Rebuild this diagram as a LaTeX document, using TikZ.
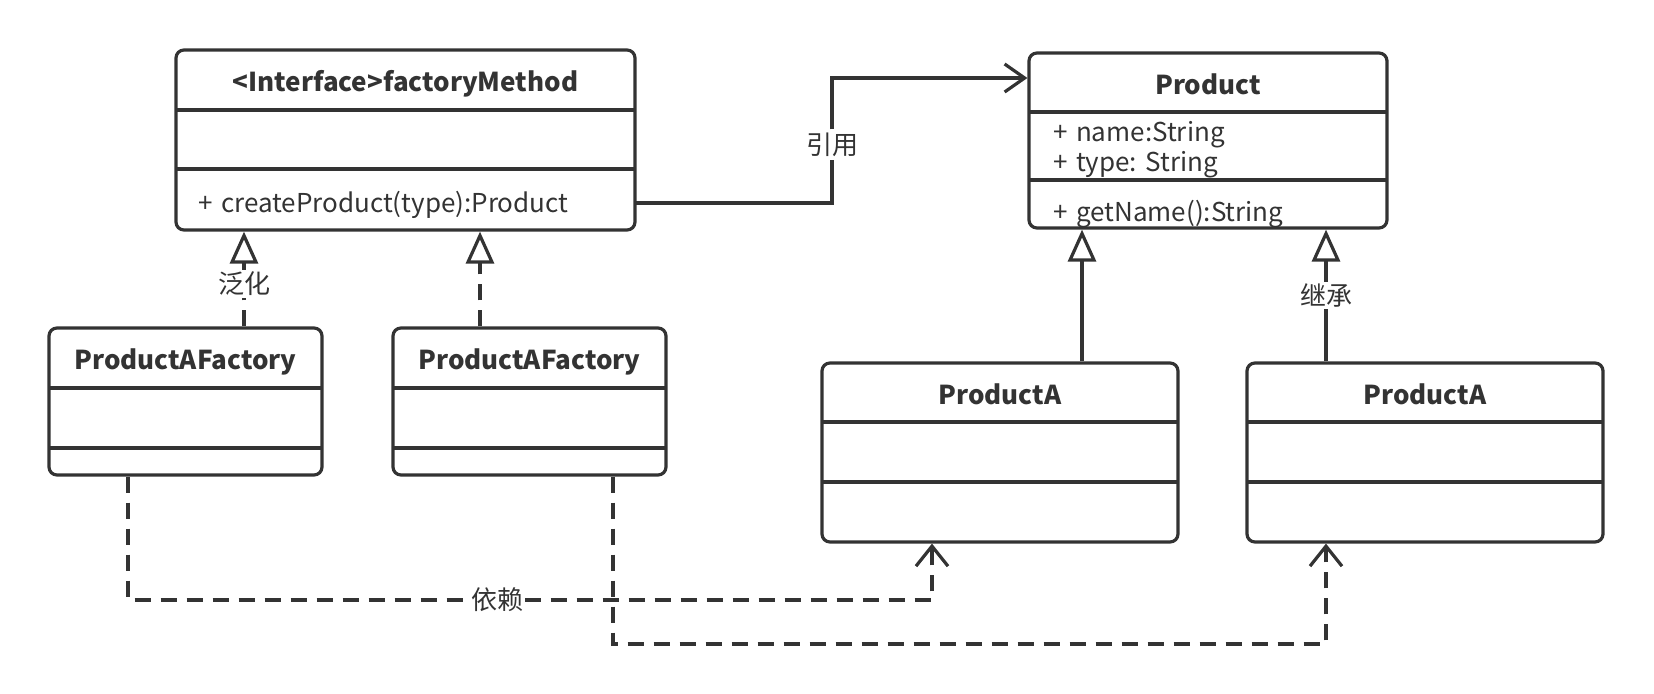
\documentclass[tikz,border=0pt]{standalone}
\usepackage{fontspec}
\setmainfont{Noto Sans CJK SC}
\usetikzlibrary{arrows.meta, positioning, fit}
\definecolor{umlgray}{HTML}{333333}
\frenchspacing

\begin{document}
\begin{tikzpicture}[
    x=0.5pt, y=-0.5pt,
    color=umlgray, line width=1.6pt,
    font=\fontsize{13}{15}\selectfont,
    part/.style={minimum width=#1, inner sep=0pt, outer sep=0pt},
    ttl/.style={part=#1, font=\fontsize{13}{15}\selectfont\bfseries,
                text height=12pt, text depth=0pt},
    box/.style={draw, rounded corners=4pt, inner sep=0pt},
    lbl/.style={fill=white, inner sep=1pt},
    dline/.style={dash pattern=on 8pt off 5pt},
    realize/.style={dline, -{Triangle[open, length=16pt, width=14pt]}},
    inherit/.style={-{Triangle[open, length=16pt, width=14pt]}},
    assoc/.style={-{Straight Barb[length=10pt, width=14pt]}},
    depend/.style={dline, -{Straight Barb[length=10pt, width=16pt]}}
]
\useasboundingbox (0,0) rectangle (1654,694);

% ---- interface ----
\node[ttl=229.5pt, minimum height=30pt, anchor=north] (fm_t) at (405.5,50) {<Interface>factoryMethod};
\node[part=229.5pt, minimum height=29.5pt, below=0pt of fm_t] (fm_a) {};
\node[part=229.5pt, minimum height=30.5pt, below=0pt of fm_a, text width=207.5pt,
      inner xsep=11pt, align=left, text height=13.5pt, text depth=0pt] (fm_m) {+ createProduct(type):Product};
\node[box, fit=(fm_t)(fm_m)] (fm) {};
\draw (fm_t.south west) -- (fm_t.south east);
\draw (fm_a.south west) -- (fm_a.south east);

% ---- Product ----
\node[ttl=179pt, minimum height=29.5pt, anchor=north] (pr_t) at (1208,53) {Product};
\node[part=179pt, minimum height=34pt, below=0pt of pr_t, text width=155pt,
      inner xsep=12pt, align=left] (pr_a) {\rule{0pt}{13.5pt}+ name:String\\+ type: String};
\node[part=179pt, minimum height=24pt, below=0pt of pr_a, text width=155pt,
      inner xsep=12pt, align=left] (pr_m) {\raisebox{-9pt}[0pt][0pt]{+ getName():String}};
\node[box, fit=(pr_t)(pr_m)] (pr) {};
\draw (pr_t.south west) -- (pr_t.south east);
\draw (pr_a.south west) -- (pr_a.south east);

% ---- factories ----
\node[ttl=136.5pt, minimum height=30pt, anchor=north] (fa1_t) at (185.5,328) {ProductAFactory};
\node[part=136.5pt, minimum height=30pt, below=0pt of fa1_t] (fa1_a) {};
\node[part=136.5pt, minimum height=13.5pt, below=0pt of fa1_a] (fa1_m) {};
\node[box, fit=(fa1_t)(fa1_m)] (fa1) {};
\draw (fa1_t.south west) -- (fa1_t.south east);
\draw (fa1_a.south west) -- (fa1_a.south east);

\node[ttl=136.5pt, minimum height=30pt, anchor=north] (fa2_t) at (529.5,328) {ProductAFactory};
\node[part=136.5pt, minimum height=30pt, below=0pt of fa2_t] (fa2_a) {};
\node[part=136.5pt, minimum height=13.5pt, below=0pt of fa2_a] (fa2_m) {};
\node[box, fit=(fa2_t)(fa2_m)] (fa2) {};
\draw (fa2_t.south west) -- (fa2_t.south east);
\draw (fa2_a.south west) -- (fa2_a.south east);

% ---- products ----
\node[ttl=178pt, minimum height=29.5pt, anchor=north] (pa1_t) at (1000,363) {ProductA};
\node[part=178pt, minimum height=30pt, below=0pt of pa1_t] (pa1_a) {};
\node[part=178pt, minimum height=30pt, below=0pt of pa1_a] (pa1_m) {};
\node[box, fit=(pa1_t)(pa1_m)] (pa1) {};
\draw (pa1_t.south west) -- (pa1_t.south east);
\draw (pa1_a.south west) -- (pa1_a.south east);

\node[ttl=178pt, minimum height=29.5pt, anchor=north] (pa2_t) at (1425,363) {ProductA};
\node[part=178pt, minimum height=30pt, below=0pt of pa2_t] (pa2_a) {};
\node[part=178pt, minimum height=30pt, below=0pt of pa2_a] (pa2_m) {};
\node[box, fit=(pa2_t)(pa2_m)] (pa2) {};
\draw (pa2_t.south west) -- (pa2_t.south east);
\draw (pa2_a.south west) -- (pa2_a.south east);

% ---- connector columns ----
\coordinate (genA) at (244,280);
\coordinate (genB) at (480,280);
\coordinate (inhA) at (1082,300);
\coordinate (inhB) at (1326,300);
\coordinate (dep1) at (128,600);
\coordinate (dep1e) at (932,600);
\coordinate (dep2) at (613,644);
\coordinate (dep2e) at (1326,644);

% reference
\node[lbl] (ref) at (832,145) {引用};
\draw (fm_m.east |- 0,203) -| (ref);
\draw[assoc] (ref) |- (pr.west |- 0,78);

% realization
\draw[realize] (fa1.north -| genA) -- node[lbl, pos=0.45] {泛化} (fm.south -| genA);
\draw[realize] (fa2.north -| genB) -- (fm.south -| genB);

% inheritance
\draw[inherit] (pa1.north -| inhA) -- (pr.south -| inhA);
\draw[inherit] (pa2.north -| inhB) -- node[lbl] {继承} (pr.south -| inhB);

% dependency
\draw[depend] (fa1.south -| dep1) -- (dep1) -- node[lbl, pos=0.459] {依赖} (dep1e) -- (pa1.south -| dep1e);
\draw[depend] (fa2.south -| dep2) -- (dep2) -- (dep2e) -- (pa2.south -| dep2e);

\end{tikzpicture}
\end{document}
